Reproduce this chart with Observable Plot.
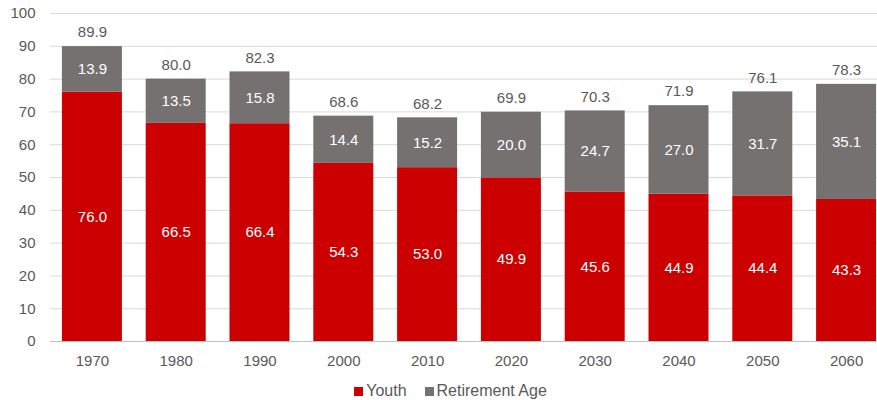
<!DOCTYPE html>
<html><head><meta charset="utf-8">
<script src="https://cdn.jsdelivr.net/npm/d3@7"></script>
<script src="https://cdn.jsdelivr.net/npm/@observablehq/plot@0.6"></script>
<style>
body{margin:0;background:#fff;font-family:"Liberation Sans",Arial,sans-serif;}
#legend{display:flex;justify-content:center;gap:18px;font-size:16px;color:#595959;margin-left:24px;height:37px;align-items:center;}
#legend span.sw{display:inline-block;width:9px;height:9px;margin-right:3px;}
</style></head>
<body><div id="chart"></div>
<div id="legend"><div><span class="sw" style="background:#CC0000"></span>Youth</div><div><span class="sw" style="background:#757171"></span>Retirement Age</div></div>
<script>
const years = ["1970","1980","1990","2000","2010","2020","2030","2040","2050","2060"];
const youth = [76.0,66.5,66.4,54.3,53.0,49.9,45.6,44.9,44.4,43.3];
const retirement = [13.9,13.5,15.8,14.4,15.2,20.0,24.7,27.0,31.7,35.1];
const totals = [89.9,80.0,82.3,68.6,68.2,69.9,70.3,71.9,76.1,78.3];
const yTicks = [0,10,20,30,40,50,60,70,80,90,100];

const rows = [];
years.forEach((y,i)=>{
  rows.push({year:y, series:"Youth", value:youth[i], y1:0, y2:youth[i]});
  rows.push({year:y, series:"Retirement Age", value:retirement[i], y1:youth[i], y2:youth[i]+retirement[i]});
});
const tot = years.map((y,i)=>({year:y, total:totals[i], top:youth[i]+retirement[i]}));

const chart = Plot.plot({
  width: 877, height: 372,
  marginLeft: 50, marginRight: 0, marginTop: 13, marginBottom: 31,
  style:{fontFamily:"Liberation Sans, Arial, sans-serif", fontSize:"15px", color:"#595959", background:"#fff"},
  x:{domain:years, range:[50,888], paddingInner:0.284, paddingOuter:0.142, round:false, label:null},
  y:{domain:[0,100], ticks:yTicks, label:null},
  color:{domain:["Youth","Retirement Age"], range:["#CC0000","#757171"]},
  marks:[
    Plot.gridY(yTicks.filter(d=>d>0), {stroke:"#d9d9d9", strokeOpacity:1, strokeWidth:1}),
    Plot.ruleY([0], {stroke:"#bfbfbf", strokeWidth:1}),
    Plot.axisY({ticks:yTicks, tickSize:0, tickPadding:15, fontSize:15, fill:"#595959", label:null}),
    Plot.axisX({tickSize:0, tickPadding:14, fontSize:15, fill:"#595959", label:null}),
    Plot.barY(rows, {x:"year", y1:"y1", y2:"y2", fill:"series"}),
    Plot.text(rows, {x:"year", y:d=>(d.y1+d.y2)/2, text:d=>d.value.toFixed(1), fill:"white", fontSize:15}),
    Plot.text(tot, {x:"year", y:"top", text:d=>d.total.toFixed(1), dy:-14, fill:"#595959", fontSize:15})
  ]
});
document.getElementById("chart").appendChild(chart);
</script></body></html>
